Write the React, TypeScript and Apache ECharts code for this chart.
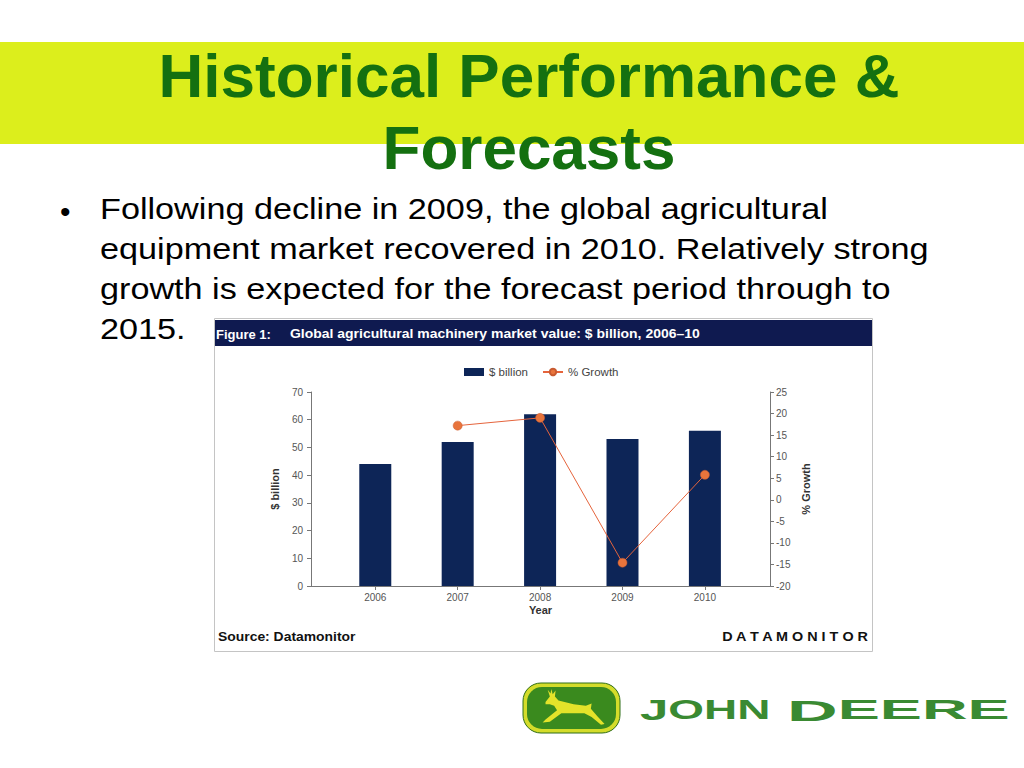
import React, { useEffect, useRef } from "react";
import * as echarts from "echarts";

const years = [2006, 2007, 2008, 2009, 2010];
const billions = [44, 52, 62, 53, 56];
const growth: (number | null)[] = [null, 17.2, 19.0, -14.6, 5.8];
const leftTicks = { min: 0, max: 70, interval: 10 };
const rightTicks = { min: -20, max: 25, interval: 5 };

const titleLines = ["Historical Performance &", "Forecasts"];
const bulletLines = [
  "Following decline in 2009, the global agricultural",
  "equipment market recovered in 2010. Relatively strong",
  "growth is expected for the forecast period through to",
  "2015.",
];

// rough deer outline (unit box 100 x 50)
const deerShape = [
  [16, 17], [22, 10], [19, 1], [23, 6], [24, 0], [26, 7], [30, 2], [29, 10],
  [34, 15], [55, 20], [72, 22], [80, 19], [79, 26], [88, 36], [98, 46], [93, 47],
  [80, 37], [70, 32], [52, 32], [38, 32], [22, 43], [12, 44], [16, 40], [32, 28],
  [28, 22], [22, 20], [16, 20],
];

const FONT = '"Liberation Sans", Arial, Helvetica, sans-serif';

export default function App() {
  const ref = useRef<HTMLDivElement>(null);
  useEffect(() => {
    if (!ref.current) return;
    const chart = echarts.init(ref.current, undefined, { renderer: "svg" });
    const deerPts = deerShape.map(([x, y]) => [534 + x * 0.72, 689 + y * 0.76]);
    const option: any = {
      animation: false,
      backgroundColor: "#ffffff",
      textStyle: { fontFamily: FONT },
      graphic: [
        { type: "rect", shape: { x: 0, y: 42, width: 1024, height: 102 }, style: { fill: "#dcee1c" }, z: 1 },
        ...titleLines.map((t, i) => ({
          type: "text",
          z: 2,
          style: {
            text: t,
            x: 529,
            y: 75 + i * 72.5,
            fill: "#147010",
            font: `bold 62px ${FONT}`,
            textAlign: "center",
            textVerticalAlign: "middle",
          },
        })),
        { type: "text", z: 2, style: { text: "•", x: 60, y: 211, fill: "#000", font: `30px ${FONT}`, textAlign: "left", textVerticalAlign: "middle" } },
        ...bulletLines.map((t, i) => ({
          type: "text",
          z: 2,
          x: 100,
          y: 209 + i * 40,
          scaleX: 1.14,
          style: {
            text: t,
            x: 0,
            y: 0,
            fill: "#000",
            font: `30px ${FONT}`,
            textAlign: "left",
            textVerticalAlign: "middle",
          },
        })),
        { type: "rect", z: 1, shape: { x: 214.5, y: 318.5, width: 658, height: 333 }, style: { fill: "none", stroke: "#c4c4c4", lineWidth: 1 } },
        { type: "rect", z: 2, shape: { x: 215, y: 320, width: 657, height: 26 }, style: { fill: "#0f1a50" } },
        { type: "text", z: 3, style: { text: "Figure 1:", x: 216, y: 334, fill: "#fff", font: `bold 13px ${FONT}`, textVerticalAlign: "middle" } },
        { type: "text", z: 3, x: 290, y: 334, scaleX: 1.075, style: { text: "Global agricultural machinery market value: $ billion, 2006–10", x: 0, y: 0, fill: "#fff", font: `bold 13px ${FONT}`, textVerticalAlign: "middle" } },
        { type: "text", z: 3, x: 218, y: 637, scaleX: 1.07, style: { text: "Source: Datamonitor", x: 0, y: 0, fill: "#111", font: `bold 13px ${FONT}`, textVerticalAlign: "middle" } },
        { type: "text", z: 3, x: 868, y: 637, scaleX: 1.2, style: { text: "D A T A M O N I T O R", x: 0, y: 0, fill: "#111", font: `bold 12px ${FONT}`, textAlign: "right", textVerticalAlign: "middle" } },
        // logo
        { type: "rect", z: 2, shape: { x: 523, y: 683, width: 97, height: 50, r: 18 }, style: { fill: "#d4dc2a", stroke: "#2f6e18", lineWidth: 1 } },
        { type: "rect", z: 3, shape: { x: 527, y: 687, width: 89, height: 42, r: 15 }, style: { fill: "#3a8a1e" } },
        { type: "polygon", z: 4, shape: { points: deerPts }, style: { fill: "#e4e32a" } },
        {
          type: "text",
          z: 3,
          x: 640,
          y: 710,
          scaleX: 1.7,
          style: {
            text: "{a|J}{b|OHN}",
            x: 0,
            y: 0,
            textVerticalAlign: "middle",
            rich: {
              a: { fontSize: 30, fontWeight: "bold", fill: "#3a8a32", fontFamily: FONT },
              b: { fontSize: 27, fontWeight: "bold", fill: "#3a8a32", fontFamily: FONT },
            },
          },
        },
        {
          type: "text",
          z: 3,
          x: 787,
          y: 710,
          scaleX: 2.34,
          style: {
            text: "{a|D}{b|EERE}",
            x: 0,
            y: 0,
            textVerticalAlign: "middle",
            rich: {
              a: { fontSize: 30, fontWeight: "bold", fill: "#3a8a32", fontFamily: FONT },
              b: { fontSize: 27, fontWeight: "bold", fill: "#3a8a32", fontFamily: FONT },
            },
          },
        },
      ],
      legend: {
        left: 459,
        top: 361,
        itemWidth: 20,
        itemHeight: 8,
        itemGap: 14,
        textStyle: { fontSize: 11.5, color: "#444", fontFamily: FONT },
        data: [{ name: "$ billion", icon: "rect" }, { name: "% Growth" }],
      },
      grid: { left: 311, right: 254, top: 392, bottom: 182, containLabel: false },
      xAxis: {
        type: "value",
        min: 2005.22,
        max: 2010.79,
        axisLine: { show: true, lineStyle: { color: "#777" } },
        axisTick: { show: true, length: 4, customValues: years, lineStyle: { color: "#777" } },
        axisLabel: { customValues: years, color: "#555", fontSize: 10, margin: 6, formatter: (v: number) => String(v) },
        splitLine: { show: false },
        name: "Year",
        nameLocation: "middle",
        nameGap: 18,
        nameTextStyle: { fontWeight: "bold", fontSize: 11, color: "#333" },
      },
      yAxis: [
        {
          type: "value",
          ...leftTicks,
          position: "left",
          axisLine: { show: true, lineStyle: { color: "#777" } },
          axisTick: { show: true, length: 4, lineStyle: { color: "#777" } },
          axisLabel: { color: "#555", fontSize: 10, margin: 8 },
          splitLine: { show: false },
          name: "$ billion",
          nameLocation: "middle",
          nameGap: 31,
          nameTextStyle: { fontWeight: "bold", fontSize: 11, color: "#333" },
        },
        {
          type: "value",
          ...rightTicks,
          position: "right",
          axisLine: { show: true, lineStyle: { color: "#777" } },
          axisTick: { show: true, length: 4, lineStyle: { color: "#777" } },
          axisLabel: { color: "#555", fontSize: 10, margin: 6 },
          splitLine: { show: false },
          name: "% Growth",
          nameLocation: "middle",
          nameGap: 30,
          nameRotate: 90,
          nameTextStyle: { fontWeight: "bold", fontSize: 11, color: "#333" },
        },
      ],
      series: [
        {
          name: "$ billion",
          type: "bar",
          yAxisIndex: 0,
          barWidth: 32,
          itemStyle: { color: "#0d2557" },
          data: years.map((y, i) => [y, billions[i]]),
        },
        {
          name: "% Growth",
          type: "line",
          yAxisIndex: 1,
          symbol: "circle",
          symbolSize: 9,
          lineStyle: { color: "#e5643c", width: 1 },
          itemStyle: { color: "#e8743c", borderColor: "#c85a30", borderWidth: 0.5 },
          data: years.map((y, i) => [y, growth[i]]),
        },
      ],
    };
    chart.setOption(option);
    return () => chart.dispose();
  }, []);
  return <div ref={ref} style={{ position: "fixed", left: 0, top: 0, width: 1024, height: 768 }} />;
}
